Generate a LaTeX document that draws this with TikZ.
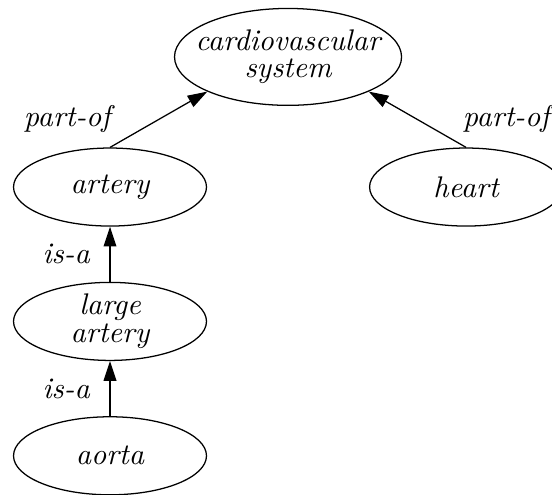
\documentclass[tikz,border=0pt]{standalone}
\usepackage{tikz}
\usetikzlibrary{shapes.geometric, positioning, arrows.meta,
calc % for the centre of the top node
}
\usepackage{amsmath}

\begin{document}
\begin{tikzpicture}[node distance=47.7pt, line width=0.45pt,
  concept/.style={ellipse, draw, inner xsep=-8pt, inner ysep=0pt, align=center,
    minimum width=68.5pt, minimum height=27.7pt, font=\fontsize{10.6}{12}\selectfont\itshape},
  rel/.style={-{Triangle[length=7pt, width=4.5pt]}},
  lbl/.style={font=\fontsize{10.6}{12}\selectfont\itshape}]
  \useasboundingbox (-39.05pt,66.4pt) rectangle (156.9pt,-109.3pt);
  \node[concept] (artery) at (0,0) {artery};
    \node[concept, right of=artery, node distance=126.4pt] (heart) {heart};
    \node[concept, minimum width=80.6pt, minimum height=34.4pt] (cvs)
      at ($(artery)!0.5!(heart)+(0,46.2pt)$) {cardiovascular\\[-2.2pt]system};

    \node[concept, below of=artery] (largeartery) {large\\[-2.2pt]artery};
    \node[concept, below of=largeartery] (aorta) {aorta};

    \draw[rel] (artery.north) -- node[left=13.5pt, lbl] {part-of} (cvs.south west);
    \draw[rel] (heart.north) -- node[right=12.6pt, lbl] {part-of} (cvs.south east);
    \draw[rel] (largeartery) -- node[left=3.6pt, lbl] {is-a} (artery);
    \draw[rel] (aorta) -- node[left=3.6pt, lbl] {is-a} (largeartery);

  \end{tikzpicture}
\end{document}
